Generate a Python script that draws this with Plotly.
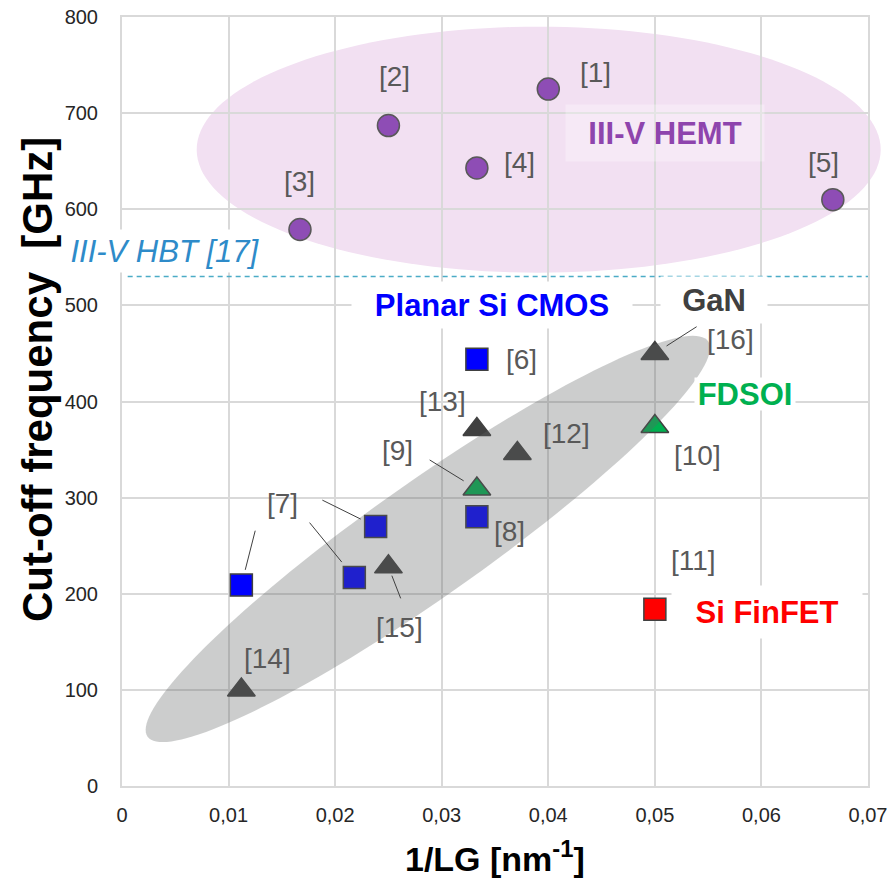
import math
import plotly.graph_objects as go

# ---------------- data ----------------
hemt_x = [0.0400, 0.0250, 0.0167, 0.0333, 0.0667]
hemt_y = [725, 687, 579, 643, 610]
hemt_refs = ["[1]", "[2]", "[3]", "[4]", "[5]"]

cmos_x = [0.0333, 0.0112, 0.0218, 0.0238, 0.0333]
cmos_y = [444, 209, 217, 270, 280]
cmos_refs = ["[6]", "[7]", "[7]", "[7]", "[8]"]

fdsoi_x = [0.0333, 0.0500]
fdsoi_y = [309, 374]
fdsoi_refs = ["[9]", "[10]"]

gan_x = [0.0371, 0.0333, 0.0112, 0.0250, 0.0500]
gan_y = [346, 371, 100, 228, 450]
gan_refs = ["[12]", "[13]", "[14]", "[15]", "[16]"]

finfet_x = [0.0500]
finfet_y = [184]
finfet_refs = ["[11]"]

hbt_level = 530  # III-V HBT [17]

x_ticks = [0, 0.01, 0.02, 0.03, 0.04, 0.05, 0.06, 0.07]
x_ticktext = ["0", "0,01", "0,02", "0,03", "0,04", "0,05", "0,06", "0,07"]
y_ticks = [0, 100, 200, 300, 400, 500, 600, 700, 800]
y_ticktext = [str(v) for v in y_ticks]

# ---------------- layout helpers ----------------
W, H = 892, 880
ML, MR, MT, MB = 122, 24, 17, 94
PW, PH = W - ML - MR, H - MT - MB
XR, YR = (0, 0.07), (0, 800)


def to_paper(xv, yv):
    return (xv - XR[0]) / (XR[1] - XR[0]), (yv - YR[0]) / (YR[1] - YR[0])


def ellipse_path(cx, cy, a_px, b_px, ang_deg, n=160):
    px, py = to_paper(cx, cy)
    t = math.radians(ang_deg)
    pts = []
    for i in range(n):
        u = 2 * math.pi * i / n
        ex, ey = a_px * math.cos(u), b_px * math.sin(u)
        dx = ex * math.cos(t) - ey * math.sin(t)
        dy = ex * math.sin(t) + ey * math.cos(t)
        pts.append((px + dx / PW, py + dy / PH))
    return "M " + " L ".join(f"{x:.5f},{y:.5f}" for x, y in pts) + " Z"


LABEL_FONT = dict(family="Liberation Sans, Arial, sans-serif", size=28, color="#595959")
CAT_FONT = "Liberation Sans, Arial, sans-serif"

fig = go.Figure()

fig.add_trace(go.Scatter(
    x=hemt_x, y=hemt_y, mode="markers", name="III-V HEMT",
    marker=dict(symbol="circle", size=22, color="#8E4DB5",
                line=dict(color="#595959", width=1.5))))
fig.add_trace(go.Scatter(
    x=cmos_x, y=cmos_y, mode="markers", name="Planar Si CMOS",
    marker=dict(symbol="square", size=22, color="#0000FF",
                line=dict(color="#404040", width=1.5))))
fig.add_trace(go.Scatter(
    x=gan_x, y=gan_y, mode="markers", name="GaN",
    marker=dict(symbol="triangle-up", size=24, color="#404040",
                line=dict(color="#404040", width=1.5))))
fig.add_trace(go.Scatter(
    x=fdsoi_x, y=fdsoi_y, mode="markers", name="FDSOI",
    marker=dict(symbol="triangle-up", size=24, color="#00B050",
                line=dict(color="#404040", width=1.5))))
fig.add_trace(go.Scatter(
    x=finfet_x, y=finfet_y, mode="markers", name="Si FinFET",
    marker=dict(symbol="square", size=22, color="#FF0000",
                line=dict(color="#404040", width=1.5))))

shapes = []
# III-V HEMT zone
shapes.append(dict(type="path", xref="paper", yref="paper", layer="below",
                   path=ellipse_path(0.0391, 662, 342, 123, 0),
                   fillcolor="#F2E0F2", line=dict(width=0)))
# Si/GaN trend zone (rotated ellipse)
shapes.append(dict(type="path", xref="paper", yref="paper", layer="above",
                   path=ellipse_path(0.0287, 257, 343, 57, 35.2),
                   fillcolor="rgba(97,99,99,0.32)", line=dict(width=0)))
# HBT level
shapes.append(dict(type="line", xref="paper", yref="y", x0=0.0076, x1=1,
                   y0=hbt_level, y1=hbt_level,
                   line=dict(color="#4BACC6", width=1.5, dash="5px,4px")))

# leader lines (label -> point)
leaders = [
    ((0.02887, 339.2), (fdsoi_x[0], fdsoi_y[0])),
    ((0.01880, 297.4), (cmos_x[3], cmos_y[3])),
    ((0.01760, 274.0), (cmos_x[2], cmos_y[2])),
    ((0.01250, 265.6), (cmos_x[1], cmos_y[1])),
    ((0.02615, 195.2), (gan_x[3], gan_y[3])),
    ((0.05392, 477.8), (gan_x[4], gan_y[4])),
]
for (x0, y0), (x1, y1) in leaders:
    f = 0.72  # stop a little short of the marker centre
    shapes.append(dict(type="line", xref="x", yref="y", layer="above",
                       x0=x0, y0=y0, x1=x0 + (x1 - x0) * f, y1=y0 + (y1 - y0) * f,
                       line=dict(color="#404040", width=1)))

annotations = []
ref_labels = [
    ("[1]", 0.04446, 742), ("[2]", 0.02559, 738.6), ("[3]", 0.01667, 628.6),
    ("[4]", 0.03726, 648.4), ("[5]", 0.06587, 648.4), ("[6]", 0.03748, 444.2),
    ("[13]", 0.03003, 399.8), ("[9]", 0.02584, 349.5), ("[7]", 0.0151, 294.1),
    ("[8]", 0.03638, 264.5), ("[15]", 0.02606, 164.4), ("[14]", 0.01362, 132.9),
    ("[12]", 0.04171, 366.2), ("[16]", 0.05711, 464), ("[10]", 0.05397, 343.6),
    ("[11]", 0.0536, 234.4),
]
for txt, x, y in ref_labels:
    annotations.append(dict(text=txt, x=x, y=y, xref="x", yref="y",
                            showarrow=False, font=LABEL_FONT))

# (text, x, y, colour, background, box width, box height)
cats = [
    ("<b>Planar Si CMOS</b>", 0.03474, 500, "#0000FF", "white", 280, 46),
    ("<b>GaN</b>", 0.05554, 506, "#404040", "white", 106, 46),
    ("<b>FDSOI</b>", 0.05845, 407.5, "#00B050", "white", 100, 32),
    ("<b>Si FinFET</b>", 0.06049, 181.3, "#FF0000", "white", 190, 52),
    ("<b>III-V HEMT</b>", 0.05094, 679, "#8E44AD", "rgba(255,255,255,0.3)", 198, 56),
    ("<i>III-V HBT [17]</i>", 0.00404, 557, "#2E8BC9", "white", 212, 42),
]
for txt, x, y, col, bg, bw, bh in cats:
    annotations.append(dict(text=txt, x=x, y=y, xref="x", yref="y", showarrow=False,
                            font=dict(family=CAT_FONT, size=31, color=col),
                            bgcolor=bg, borderpad=0, width=bw, height=bh,
                            align="center", valign="middle"))

# axis titles
annotations.append(dict(text="<b>Cut-off frequency&nbsp; [GHz]</b>", textangle=-90,
                        xref="paper", yref="paper", x=(37 - ML) / PW, y=(H - MB - 380) / PH,
                        xanchor="center", yanchor="middle", showarrow=False,
                        font=dict(family=CAT_FONT, size=42, color="#000000")))
annotations.append(dict(text="<b>1/LG [nm<sup>-1</sup>]</b>",
                        xref="paper", yref="paper", x=(495 - ML) / PW, y=-(856 - (H - MB)) / PH,
                        xanchor="center", yanchor="middle", showarrow=False,
                        font=dict(family=CAT_FONT, size=34, color="#000000")))

axis_common = dict(showgrid=True, gridcolor="#D9D9D9", gridwidth=2,
                   showline=True, linecolor="#D9D9D9", linewidth=2, mirror=True,
                   zeroline=False, ticks="", automargin=False,
                   tickfont=dict(family="Liberation Sans, Arial, sans-serif", size=20, color="#262626"))

fig.update_layout(
    template="none",
    width=W, height=H,
    margin=dict(l=ML, r=MR, t=MT, b=MB, pad=0),
    paper_bgcolor="white", plot_bgcolor="rgba(0,0,0,0)",
    showlegend=False,
    shapes=shapes, annotations=annotations,
    xaxis=dict(range=list(XR), tickvals=x_ticks, ticktext=x_ticktext,
               ticklabelstandoff=10, **axis_common),
    yaxis=dict(range=list(YR), tickvals=y_ticks, ticktext=y_ticktext,
               ticklabelstandoff=18, **axis_common),
)

fig.write_html("out.html")
